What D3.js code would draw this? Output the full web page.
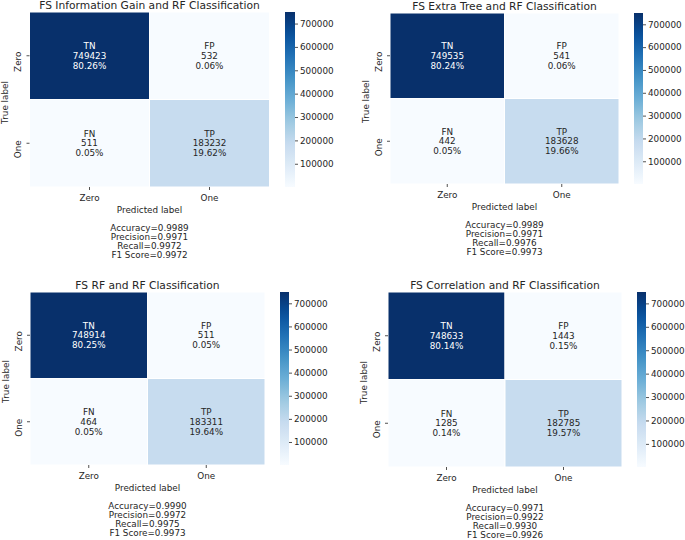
<!DOCTYPE html>
<html>
<head>
<meta charset="utf-8">
<script src="https://cdn.jsdelivr.net/npm/d3@7"></script>
<style>
  html, body { margin: 0; padding: 0; background: #fff; }
  svg { display: block; font-family: "DejaVu Sans", sans-serif; }
</style>
</head>
<body>
<svg id="chart" width="685" height="540"></svg>
<script>
// ---------- data ----------
const titles = [
  "FS Information Gain and RF Classification",
  "FS Extra Tree and RF Classification",
  "FS RF and RF Classification",
  "FS Correlation and RF Classification"
];
const classes = ["Zero", "One"];
const cellNames = ["TN", "FP", "FN", "TP"];
const tnValues = [749423, 749535, 748914, 748633];
const fpValues = [532, 541, 511, 1443];
const fnValues = [511, 442, 464, 1285];
const tpValues = [183232, 183628, 183311, 182785];
const tnPct = ["80.26%", "80.24%", "80.25%", "80.14%"];
const fpPct = ["0.06%", "0.06%", "0.05%", "0.15%"];
const fnPct = ["0.05%", "0.05%", "0.05%", "0.14%"];
const tpPct = ["19.62%", "19.66%", "19.64%", "19.57%"];
const accuracy = ["0.9989", "0.9989", "0.9990", "0.9971"];
const precision = ["0.9971", "0.9971", "0.9972", "0.9922"];
const recall = ["0.9972", "0.9976", "0.9975", "0.9930"];
const f1score = ["0.9972", "0.9973", "0.9973", "0.9926"];
const colorbarTicks = [100000, 200000, 300000, 400000, 500000, 600000, 700000];

// ---------- layout (positions only) ----------
const panels = [
  { x0: 29.5, x1: 269.5, y0: 12, y1: 187, cb0: 285, cb1: 295 },
  { x0: 390, x1: 619, y0: 13, y1: 184, cb0: 634, cb1: 643 },
  { x0: 30, x1: 265, y0: 292, y1: 465, cb0: 280, cb1: 289 },
  { x0: 388, x1: 622, y0: 292, y1: 467, cb0: 637, cb1: 646 }
];

const blues = ["#f7fbff","#deebf7","#c6dbef","#9ecae1","#6baed6","#4292c6","#2171b5","#08519c","#08306b"];
const bluesInterp = d3.piecewise(d3.interpolateRgb, blues);
const textColor = "#262626";
const fs = 8.8;

function luminance(c) {
  const rgb = d3.rgb(c);
  const f = v => { v /= 255; return v <= 0.03928 ? v / 12.92 : Math.pow((v + 0.055) / 1.055, 2.4); };
  return 0.2126 * f(rgb.r) + 0.7152 * f(rgb.g) + 0.0722 * f(rgb.b);
}

const svg = d3.select("#chart");
const defs = svg.append("defs");

panels.forEach((p, i) => {
  const values = [tnValues[i], fpValues[i], fnValues[i], tpValues[i]];
  const pcts = [tnPct[i], fpPct[i], fnPct[i], tpPct[i]];
  const cells = values.map((v, k) => ({
    name: cellNames[k], value: v, pct: pcts[k],
    col: classes[k % 2], row: classes[Math.floor(k / 2)]
  }));
  const vmin = d3.min(values), vmax = d3.max(values);
  const color = d3.scaleSequential(bluesInterp).domain([vmin, vmax]);

  const x = d3.scaleBand().domain(classes).range([p.x0, p.x1]);
  const y = d3.scaleBand().domain(classes).range([p.y0, p.y1]);
  const g = svg.append("g");

  // cells
  g.selectAll("rect.cell").data(cells).join("rect")
    .attr("class", "cell")
    .attr("x", d => x(d.col)).attr("y", d => y(d.row))
    .attr("width", x.bandwidth()).attr("height", y.bandwidth())
    .attr("fill", d => color(d.value))
    .attr("stroke", "#fff").attr("stroke-width", 1);

  // annotations
  const ann = g.selectAll("text.ann").data(cells).join("text")
    .attr("class", "ann")
    .attr("text-anchor", "middle")
    .attr("font-size", fs)
    .attr("fill", d => luminance(color(d.value)) <= 0.408 ? "#ffffff" : textColor);
  ann.each(function(d) {
    const cx = x(d.col) + x.bandwidth() / 2;
    const cy = y(d.row) + y.bandwidth() / 2;
    const t = d3.select(this);
    [d.name, d.value, d.pct].forEach((s, j) => {
      t.append("tspan").attr("x", cx).attr("y", cy + (j - 1) * 9.6 + 3.2).text(s);
    });
  });

  // title
  g.append("text")
    .attr("x", (p.x0 + p.x1) / 2).attr("y", p.y0 - 3.5)
    .attr("text-anchor", "middle").attr("font-size", 10.7).attr("fill", textColor)
    .text(titles[i]);

  // x axis ticks & labels
  classes.forEach(c => {
    const cx = x(c) + x.bandwidth() / 2;
    g.append("line").attr("x1", cx).attr("x2", cx).attr("y1", p.y1).attr("y2", p.y1 + 3)
      .attr("stroke", textColor).attr("stroke-width", 0.8);
    g.append("text").attr("x", cx).attr("y", p.y1 + 13.5)
      .attr("text-anchor", "middle").attr("font-size", fs).attr("fill", textColor).text(c);
    const cy = y(c) + y.bandwidth() / 2;
    g.append("line").attr("x1", p.x0 - 3).attr("x2", p.x0).attr("y1", cy).attr("y2", cy)
      .attr("stroke", textColor).attr("stroke-width", 0.8);
    g.append("text")
      .attr("transform", `translate(${p.x0 - 8.5},${cy + 6}) rotate(-90)`)
      .attr("text-anchor", "middle").attr("font-size", fs).attr("fill", textColor).text(c);
  });

  g.append("text").attr("x", (p.x0 + p.x1) / 2).attr("y", p.y1 + 25.5)
    .attr("text-anchor", "middle").attr("font-size", fs).attr("fill", textColor)
    .text("Predicted label");
  g.append("text")
    .attr("transform", `translate(${p.x0 - 21.5},${(p.y0 + p.y1) / 2 + 3}) rotate(-90)`)
    .attr("text-anchor", "middle").attr("font-size", fs).attr("fill", textColor)
    .text("True label");

  // metrics
  const metrics = [
    "Accuracy=" + accuracy[i],
    "Precision=" + precision[i],
    "Recall=" + recall[i],
    "F1 Score=" + f1score[i]
  ];
  g.selectAll("text.metric").data(metrics).join("text")
    .attr("class", "metric")
    .attr("x", (p.x0 + p.x1) / 2)
    .attr("y", (d, j) => p.y1 + 44 + j * 9)
    .attr("text-anchor", "middle").attr("font-size", fs).attr("fill", textColor)
    .text(d => d);

  // colorbar
  const gid = "cbgrad" + i;
  const grad = defs.append("linearGradient").attr("id", gid)
    .attr("x1", 0).attr("x2", 0).attr("y1", 1).attr("y2", 0);
  d3.range(0, 1.0001, 0.05).forEach(t => {
    grad.append("stop").attr("offset", t).attr("stop-color", bluesInterp(t));
  });
  const cbScale = d3.scaleLinear().domain([vmin, vmax]).range([p.y1, p.y0]);
  g.append("rect").attr("x", p.cb0).attr("y", p.y0)
    .attr("width", p.cb1 - p.cb0).attr("height", p.y1 - p.y0)
    .attr("fill", `url(#${gid})`);
  const cbAxis = d3.axisRight(cbScale).tickValues(colorbarTicks).tickSize(3).tickPadding(2).tickFormat(d3.format("d"));
  const ag = g.append("g").attr("transform", `translate(${p.cb1},0)`).call(cbAxis);
  ag.select(".domain").remove();
  ag.selectAll(".tick line").attr("stroke", textColor).attr("stroke-width", 0.8);
  ag.selectAll(".tick text").attr("font-size", fs).attr("fill", textColor)
    .attr("font-family", "DejaVu Sans, sans-serif");
});
</script>
</body>
</html>
